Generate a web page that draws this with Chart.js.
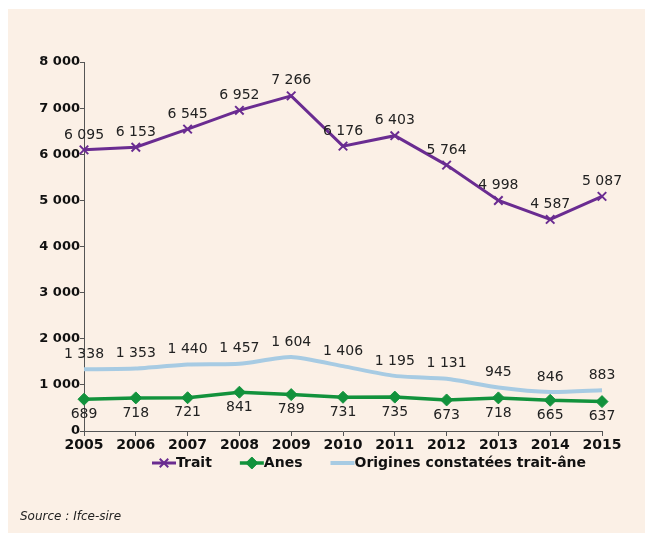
<!DOCTYPE html>
<html>
<head>
<meta charset="utf-8">
<script src="https://cdn.jsdelivr.net/npm/chart.js@4.4.1/dist/chart.umd.min.js"></script>
<style>
  html, body { margin: 0; padding: 0; background: #fff; }
  #frame { position: absolute; left: 8px; top: 9px; width: 637px; height: 524px; background: #fbf0e6; }
  #wrap { position: absolute; left: 0; top: 0; width: 645px; height: 533px; }
  #source { position: absolute; left: 20px; top: 509px; font: italic 12px "DejaVu Sans", sans-serif; color: #222; }
</style>
</head>
<body>
<div id="frame"></div>
<div id="wrap"><canvas id="chart"></canvas></div>
<div id="source">Source : Ifce-sire</div>
<script>
const years = ['2005', '2006', '2007', '2008', '2009', '2010', '2011', '2012', '2013', '2014', '2015'];
const trait = [6095, 6153, 6545, 6952, 7266, 6176, 6403, 5764, 4998, 4587, 5087];
const anes = [689, 718, 721, 841, 789, 731, 735, 673, 718, 665, 637];
const origines = [1338, 1353, 1440, 1457, 1604, 1406, 1195, 1131, 945, 846, 883];
const yTicks = [0, 1000, 2000, 3000, 4000, 5000, 6000, 7000, 8000];

const FONT = '"DejaVu Sans", sans-serif';

// "6 095" style thousands separator
const fmt = v => String(v).replace(/\B(?=(\d{3})+(?!\d))/g, ' ');

// value labels above / below each point
const valueLabels = {
  id: 'valueLabels',
  afterDatasetsDraw(chart) {
    const ctx = chart.ctx;
    ctx.save();
    ctx.font = '14px ' + FONT;
    ctx.fillStyle = '#222';
    ctx.textAlign = 'center';
    ctx.textBaseline = 'middle';
    chart.data.datasets.forEach((ds, i) => {
      chart.getDatasetMeta(i).data.forEach((pt, j) => {
        ctx.fillText(fmt(ds.data[j]), pt.x, pt.y + ds.labelOffset);
      });
    });
    ctx.restore();
  }
};

// legend: line sample with marker, then bold text
const lineLegend = {
  id: 'lineLegend',
  afterDraw(chart) {
    const ctx = chart.ctx;
    const y = 463;
    let x = 152;
    ctx.save();
    ctx.font = 'bold 14px ' + FONT;
    ctx.textBaseline = 'middle';
    ctx.textAlign = 'left';
    chart.data.datasets.forEach(ds => {
      ctx.strokeStyle = ds.borderColor;
      ctx.lineWidth = ds.borderWidth;
      ctx.beginPath();
      ctx.moveTo(x, y);
      ctx.lineTo(x + 24, y);
      ctx.stroke();
      if (ds.pointStyle && ds.pointRadius > 0) {
        ctx.fillStyle = ds.backgroundColor;
        ctx.strokeStyle = ds.borderColor;
        ctx.lineWidth = ds.pointBorderWidth;
        Chart.helpers.drawPoint(ctx, {
          pointStyle: ds.pointStyle,
          radius: ds.pointRadius,
          borderWidth: ds.pointBorderWidth
        }, x + 12, y);
      }
      ctx.fillStyle = '#111';
      ctx.fillText(ds.label, x + 24, y);
      x += 24 + ctx.measureText(ds.label).width + 28;
    });
    ctx.restore();
  }
};

new Chart(document.getElementById('chart').getContext('2d'), {
  type: 'line',
  data: {
    labels: years,
    datasets: [
      {
        label: 'Trait',
        data: trait,
        borderColor: '#6a2c91',
        backgroundColor: '#6a2c91',
        borderWidth: 3,
        pointStyle: 'crossRot',
        pointRadius: 6,
        pointBorderWidth: 2,
        tension: 0,
        labelOffset: -15
      },
      {
        label: 'Anes',
        data: anes,
        borderColor: '#12923c',
        backgroundColor: '#12923c',
        borderWidth: 3.5,
        pointStyle: 'rectRot',
        pointRadius: 6,
        pointBorderWidth: 1,
        tension: 0,
        labelOffset: 15
      },
      {
        label: 'Origines constatées trait-âne',
        data: origines,
        borderColor: '#a7cbe3',
        backgroundColor: '#a7cbe3',
        borderWidth: 4,
        pointRadius: 0,
        pointStyle: false,
        tension: 0.2,
        labelOffset: -15
      }
    ]
  },
  options: {
    responsive: true,
    maintainAspectRatio: false,
    animation: false,
    layout: { padding: { top: 62, right: 43, left: 0, bottom: 0 } },
    scales: {
      x: {
        offset: false,
        grid: { display: true, drawOnChartArea: false, drawTicks: true, tickLength: 5, color: '#555' },
        border: { display: true, color: '#555', width: 1 },
        ticks: { color: '#111', font: { family: FONT, size: 14, weight: 'bold' }, padding: 1, maxRotation: 0 },
        afterFit(scale) { scale.height = 102; }
      },
      y: {
        min: 0,
        max: 8000,
        afterBuildTicks(scale) { scale.ticks = yTicks.map(v => ({ value: v })); },
        grid: { display: true, drawOnChartArea: false, drawTicks: true, tickLength: 4, color: '#555' },
        border: { display: true, color: '#555', width: 1 },
        ticks: {
          color: '#111',
          font: { family: FONT, size: 13, weight: 'bold' },
          padding: 0,
          callback: v => fmt(v)
        },
        afterFit(scale) { scale.width = 84; }
      }
    },
    plugins: {
      legend: { display: false },
      tooltip: { enabled: false }
    }
  },
  plugins: [valueLabels, lineLegend]
});
</script>
</body>
</html>
